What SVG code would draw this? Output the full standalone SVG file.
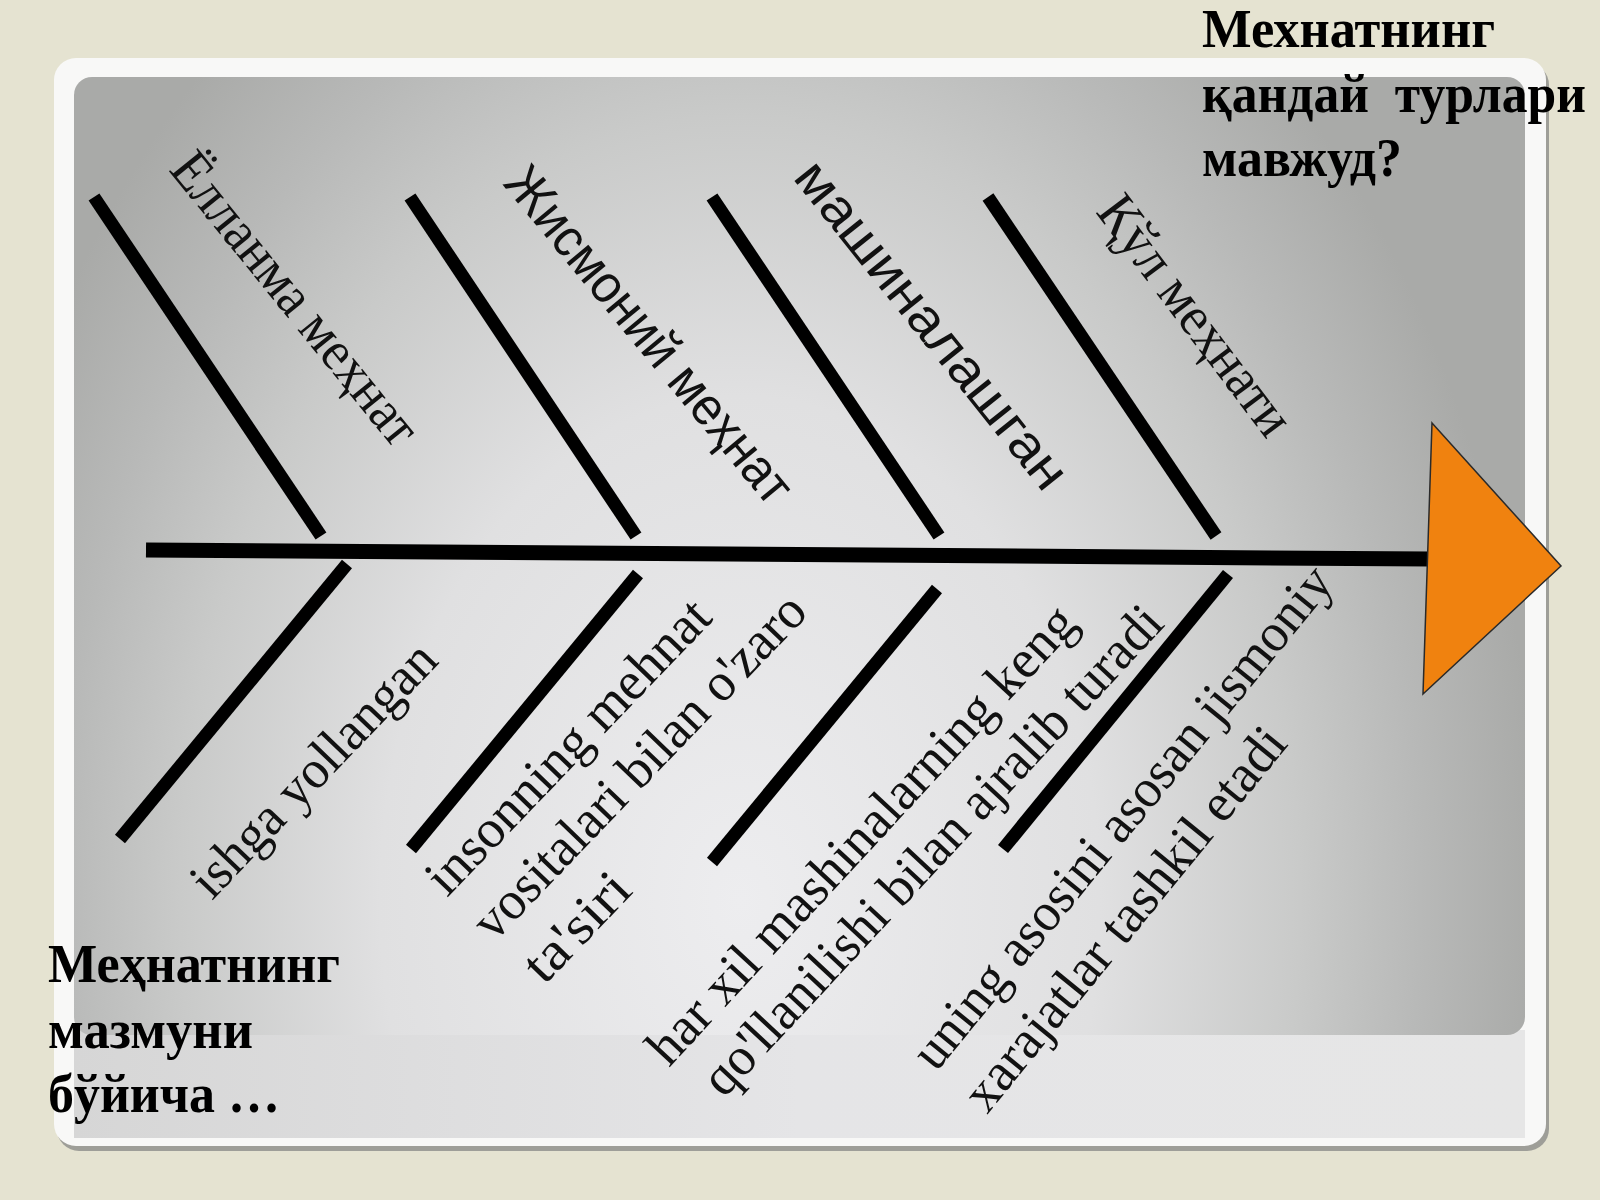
<svg xmlns="http://www.w3.org/2000/svg" width="1600" height="1200" viewBox="0 0 1600 1200">
  <defs>
    <radialGradient id="panel" gradientUnits="userSpaceOnUse" cx="740" cy="900" r="800" gradientTransform="translate(740 900) scale(1 1.4) translate(-740 -900)">
      <stop offset="0" stop-color="#EDEDEF"/>
      <stop offset="0.45" stop-color="#E0E0E1"/>
      <stop offset="0.7" stop-color="#C9CAC9"/>
      <stop offset="0.85" stop-color="#B8B9B8"/>
      <stop offset="1" stop-color="#A9AAA8"/>
    </radialGradient>
    <linearGradient id="band" x1="0" y1="0" x2="1" y2="0">
      <stop offset="0" stop-color="#D6D6D6"/>
      <stop offset="0.5" stop-color="#E5E5E7"/>
      <stop offset="1" stop-color="#E6E6E6"/>
    </linearGradient>
    <style>
      .bone { stroke: #000; stroke-width: 13; fill: none; }
      .spine { stroke: #000; stroke-width: 15; fill: none; }
      .up-serif { font-family: "Liberation Serif", "Times New Roman", serif; font-size: 56px; fill: #111; }
      .up-sans { font-family: "Liberation Sans", Arial, sans-serif; font-size: 53px; fill: #111; }
      .low { font-family: "Liberation Serif", "Times New Roman", serif; font-size: 54px; fill: #111; }
      .title { font-family: "Liberation Serif", "Times New Roman", serif; font-size: 54px; font-weight: bold; fill: #000; }
    </style>
  </defs>

  <!-- background -->
  <rect x="0" y="0" width="1600" height="1200" fill="#E5E3D1"/>
  <!-- frame shadow -->
  <rect x="57" y="63" width="1492" height="1088" rx="22" fill="#9E9E98"/>
  <!-- outer frame -->
  <rect x="54" y="58" width="1492" height="1088" rx="22" fill="#F8F8F7"/>
  <rect x="74" y="1030" width="1451" height="108" fill="url(#band)"/>
  <!-- inner panel -->
  <rect x="74" y="77" width="1451" height="958" rx="18" fill="url(#panel)"/>

  <!-- connectors: spine and bones -->
  <g id="connectors">
    <line class="spine" x1="146" y1="550" x2="1430" y2="559"/>
    <line class="bone" x1="94" y1="197" x2="321" y2="536"/>
    <line class="bone" x1="410" y1="197" x2="636" y2="536"/>
    <line class="bone" x1="712" y1="197" x2="939" y2="536"/>
    <line class="bone" x1="988" y1="197" x2="1216" y2="536"/>
    <line class="bone" x1="347" y1="564" x2="120" y2="839"/>
    <line class="bone" x1="638" y1="574" x2="411" y2="849"/>
    <line class="bone" x1="937" y1="589" x2="712" y2="862"/>
    <line class="bone" x1="1228" y1="574" x2="1003" y2="849"/>
  </g>

  <!-- head -->
  <g id="head">
    <polygon points="1432,423 1561,566 1423,694" fill="#F0820F" stroke="#2A2A2A" stroke-width="1.5"/>
  </g>

  <!-- upper labels -->
  <g id="label-yollanma">
    <text class="up-serif" transform="translate(168,170) rotate(51)" textLength="360" lengthAdjust="spacingAndGlyphs">Ёлланма меҳнат</text>
  </g>
  <g id="label-jismoniy">
    <text class="up-sans" transform="translate(502,184) rotate(50.5)" textLength="420" lengthAdjust="spacingAndGlyphs">Жисмоний меҳнат</text>
  </g>
  <g id="label-mashina">
    <text class="up-sans" transform="translate(792,178) rotate(51.4)" textLength="404" lengthAdjust="spacingAndGlyphs">машиналашган</text>
  </g>
  <g id="label-qul">
    <text class="up-serif" transform="translate(1095,212) rotate(53)" textLength="286" lengthAdjust="spacingAndGlyphs">Қўл меҳнати</text>
  </g>

  <!-- lower labels -->
  <g id="detail-yollanma">
    <text class="low" transform="translate(212,901) rotate(-46.3)" textLength="330" lengthAdjust="spacingAndGlyphs">ishga yollangan</text>
  </g>
  <g id="detail-jismoniy">
    <text class="low" transform="translate(447,898) rotate(-46.2)">
      <tspan x="0" y="0" textLength="386" lengthAdjust="spacingAndGlyphs">insonning mehnat</tspan>
      <tspan x="0" y="65" textLength="456" lengthAdjust="spacingAndGlyphs">vositalari bilan o'zaro</tspan>
      <tspan x="4" y="131" textLength="130" lengthAdjust="spacingAndGlyphs">ta'siri</tspan>
    </text>
  </g>
  <g id="detail-mashina">
    <text class="low" transform="translate(669,1068) rotate(-47.2)" textLength="604" lengthAdjust="spacingAndGlyphs">har xil mashinalarning keng</text>
    <text class="low" transform="translate(724,1099) rotate(-47)" textLength="648" lengthAdjust="spacingAndGlyphs">qo'llanilishi bilan ajralib turadi</text>
  </g>
  <g id="detail-qul">
    <text class="low" transform="translate(936,1073) rotate(-50.8)">
      <tspan x="0" y="0" textLength="632" lengthAdjust="spacingAndGlyphs">uning asosini asosan jismoniy</tspan>
      <tspan x="0" y="66" textLength="478" lengthAdjust="spacingAndGlyphs">xarajatlar tashkil etadi</tspan>
    </text>
  </g>

  <!-- titles -->
  <g id="title-question">
    <text class="title" x="1202" y="47" textLength="293" lengthAdjust="spacingAndGlyphs">Мехнатнинг</text>
    <text class="title" x="1202" y="112" textLength="384" lengthAdjust="spacingAndGlyphs" xml:space="preserve">қандай  турлари</text>
    <text class="title" x="1202" y="176" textLength="200" lengthAdjust="spacingAndGlyphs">мавжуд?</text>
  </g>
  <g id="title-content">
    <text class="title" x="48" y="982" textLength="292" lengthAdjust="spacingAndGlyphs">Меҳнатнинг</text>
    <text class="title" x="48" y="1048" textLength="205" lengthAdjust="spacingAndGlyphs">мазмуни</text>
    <text class="title" x="48" y="1112" textLength="232" lengthAdjust="spacingAndGlyphs">бўйича …</text>
  </g>
</svg>
